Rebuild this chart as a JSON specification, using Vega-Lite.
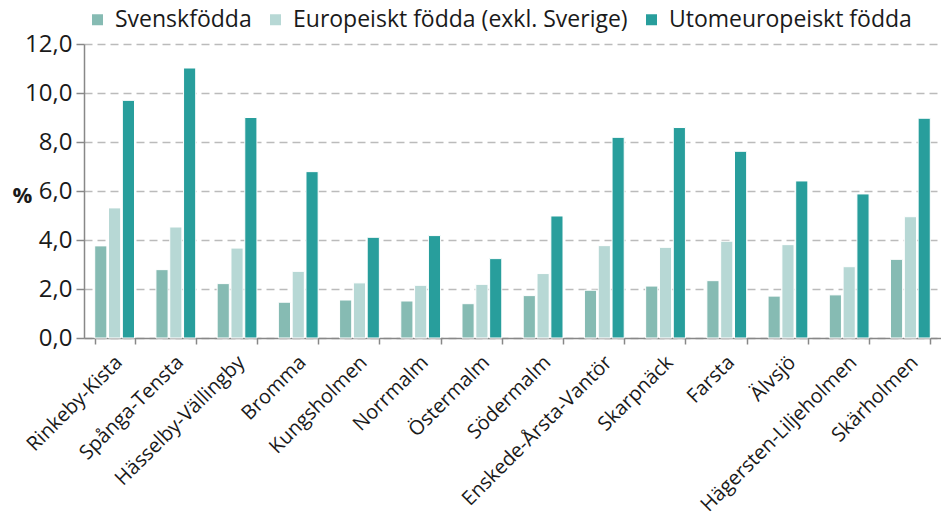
{
  "$schema": "https://vega.github.io/schema/vega-lite/v6.json",
  "autosize": "none",
  "width": 857,
  "height": 294,
  "padding": {"left": 84, "top": 44, "right": 0, "bottom": 186},
  "background": "white",
  "config": {
    "font": "Open Sans",
    "view": {"stroke": null},
    "axis": {"labelFont": "Open Sans", "titleFont": "Open Sans", "labelColor": "#1a1a1a", "titleColor": "#1a1a1a"},
    "legend": {"labelFont": "Open Sans"}
  },
  "data": {
    "values": [
      {"omrade": "Rinkeby-Kista", "grupp": "Svenskfödda", "andel": 3.76},
      {"omrade": "Rinkeby-Kista", "grupp": "Europeiskt födda (exkl. Sverige)", "andel": 5.31},
      {"omrade": "Rinkeby-Kista", "grupp": "Utomeuropeiskt födda", "andel": 9.70},
      {"omrade": "Spånga-Tensta", "grupp": "Svenskfödda", "andel": 2.79},
      {"omrade": "Spånga-Tensta", "grupp": "Europeiskt födda (exkl. Sverige)", "andel": 4.53},
      {"omrade": "Spånga-Tensta", "grupp": "Utomeuropeiskt födda", "andel": 11.02},
      {"omrade": "Hässelby-Vällingby", "grupp": "Svenskfödda", "andel": 2.22},
      {"omrade": "Hässelby-Vällingby", "grupp": "Europeiskt födda (exkl. Sverige)", "andel": 3.67},
      {"omrade": "Hässelby-Vällingby", "grupp": "Utomeuropeiskt födda", "andel": 9.00},
      {"omrade": "Bromma", "grupp": "Svenskfödda", "andel": 1.46},
      {"omrade": "Bromma", "grupp": "Europeiskt födda (exkl. Sverige)", "andel": 2.72},
      {"omrade": "Bromma", "grupp": "Utomeuropeiskt födda", "andel": 6.79},
      {"omrade": "Kungsholmen", "grupp": "Svenskfödda", "andel": 1.55},
      {"omrade": "Kungsholmen", "grupp": "Europeiskt födda (exkl. Sverige)", "andel": 2.25},
      {"omrade": "Kungsholmen", "grupp": "Utomeuropeiskt födda", "andel": 4.11},
      {"omrade": "Norrmalm", "grupp": "Svenskfödda", "andel": 1.51},
      {"omrade": "Norrmalm", "grupp": "Europeiskt födda (exkl. Sverige)", "andel": 2.15},
      {"omrade": "Norrmalm", "grupp": "Utomeuropeiskt födda", "andel": 4.18},
      {"omrade": "Östermalm", "grupp": "Svenskfödda", "andel": 1.40},
      {"omrade": "Östermalm", "grupp": "Europeiskt födda (exkl. Sverige)", "andel": 2.19},
      {"omrade": "Östermalm", "grupp": "Utomeuropeiskt födda", "andel": 3.24},
      {"omrade": "Södermalm", "grupp": "Svenskfödda", "andel": 1.73},
      {"omrade": "Södermalm", "grupp": "Europeiskt födda (exkl. Sverige)", "andel": 2.63},
      {"omrade": "Södermalm", "grupp": "Utomeuropeiskt födda", "andel": 4.98},
      {"omrade": "Enskede-Årsta-Vantör", "grupp": "Svenskfödda", "andel": 1.95},
      {"omrade": "Enskede-Årsta-Vantör", "grupp": "Europeiskt födda (exkl. Sverige)", "andel": 3.77},
      {"omrade": "Enskede-Årsta-Vantör", "grupp": "Utomeuropeiskt födda", "andel": 8.19},
      {"omrade": "Skarpnäck", "grupp": "Svenskfödda", "andel": 2.12},
      {"omrade": "Skarpnäck", "grupp": "Europeiskt födda (exkl. Sverige)", "andel": 3.70},
      {"omrade": "Skarpnäck", "grupp": "Utomeuropeiskt födda", "andel": 8.59},
      {"omrade": "Farsta", "grupp": "Svenskfödda", "andel": 2.34},
      {"omrade": "Farsta", "grupp": "Europeiskt födda (exkl. Sverige)", "andel": 3.95},
      {"omrade": "Farsta", "grupp": "Utomeuropeiskt födda", "andel": 7.62},
      {"omrade": "Älvsjö", "grupp": "Svenskfödda", "andel": 1.71},
      {"omrade": "Älvsjö", "grupp": "Europeiskt födda (exkl. Sverige)", "andel": 3.81},
      {"omrade": "Älvsjö", "grupp": "Utomeuropeiskt födda", "andel": 6.41},
      {"omrade": "Hägersten-Liljeholmen", "grupp": "Svenskfödda", "andel": 1.76},
      {"omrade": "Hägersten-Liljeholmen", "grupp": "Europeiskt födda (exkl. Sverige)", "andel": 2.91},
      {"omrade": "Hägersten-Liljeholmen", "grupp": "Utomeuropeiskt födda", "andel": 5.88},
      {"omrade": "Skärholmen", "grupp": "Svenskfödda", "andel": 3.21},
      {"omrade": "Skärholmen", "grupp": "Europeiskt födda (exkl. Sverige)", "andel": 4.95},
      {"omrade": "Skärholmen", "grupp": "Utomeuropeiskt födda", "andel": 8.97}
    ]
  },
  "mark": {"type": "bar", "stroke": "white", "strokeWidth": 1},
  "encoding": {
    "x": {
      "field": "omrade",
      "type": "nominal",
      "sort": null,
      "scale": {"paddingInner": 0.35, "paddingOuter": 0.175},
      "axis": {
        "title": null,
        "labelAngle": -45,
        "labelAlign": "right",
        "labelBaseline": "middle",
        "labelFontSize": 20,
        "labelPadding": 15,
        "labelOffset": 4,
        "labelLimit": 400,
        "tickBand": "extent",
        "tickSize": 6,
        "tickColor": "#888888",
        "tickWidth": 1.5,
        "domainColor": "#888888",
        "domainWidth": 1.5
      }
    },
    "xOffset": {
      "field": "grupp",
      "type": "nominal",
      "sort": ["Svenskfödda", "Europeiskt födda (exkl. Sverige)", "Utomeuropeiskt födda"],
      "scale": {"paddingInner": 0.12}
    },
    "y": {
      "field": "andel",
      "type": "quantitative",
      "scale": {"domain": [0, 12], "nice": false},
      "axis": {
        "title": "%",
        "titleAngle": 0,
        "titleX": -72,
        "titleY": 151,
        "titleAlign": "left",
        "titleBaseline": "middle",
        "titleFontSize": 22,
        "titleFontWeight": "bold",
        "values": [0, 2, 4, 6, 8, 10, 12],
        "labelExpr": "replace(format(datum.value, '.1f'), '.', ',')",
        "labelFontSize": 24,
        "labelPadding": 4,
        "tickSize": 8,
        "tickColor": "#888888",
        "tickWidth": 1.5,
        "domainColor": "#888888",
        "domainWidth": 1.5,
        "grid": true,
        "gridColor": "#bbbbbb",
        "gridWidth": 1.5,
        "gridDash": [8, 5]
      }
    },
    "color": {
      "field": "grupp",
      "type": "nominal",
      "scale": {
        "domain": ["Svenskfödda", "Europeiskt födda (exkl. Sverige)", "Utomeuropeiskt födda"],
        "range": ["#86bbb3", "#b7d8d5", "#289e9c"]
      },
      "legend": {
        "title": null,
        "orient": "none",
        "direction": "horizontal",
        "legendX": 2,
        "legendY": -36,
        "symbolType": "square",
        "symbolSize": 121,
        "symbolStrokeWidth": 0,
        "labelFontSize": 23,
        "labelLimit": 500,
        "labelColor": "#1a1a1a",
        "labelOffset": 6,
        "columnPadding": 12
      }
    }
  }
}
